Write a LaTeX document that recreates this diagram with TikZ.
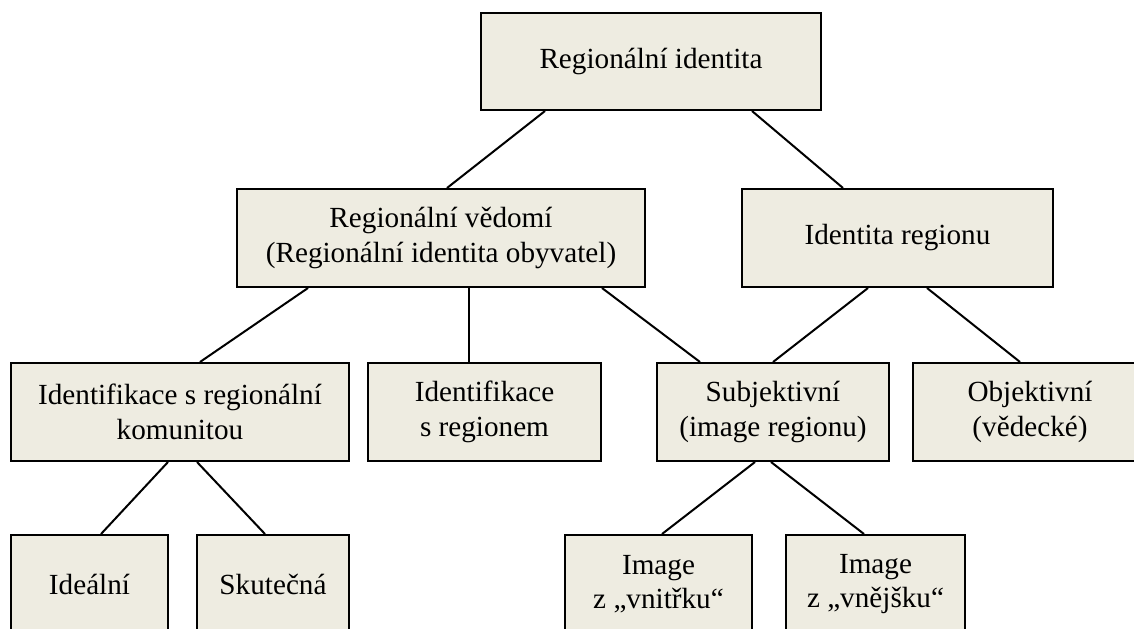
\documentclass[tikz,border=0pt]{standalone}
\usepackage{fontspec}
\setmainfont{Liberation Serif}
\definecolor{boxfill}{HTML}{EEECE1}

\begin{document}
\begin{tikzpicture}[
  x=0.5pt, y=-0.5pt,
  box/.style={draw, fill=boxfill, line width=1pt, inner sep=0pt,
    minimum height=49pt, align=center,
    font=\fontsize{14.6}{17.3}\selectfont},
  link/.style={line width=1pt}
]
\useasboundingbox (0,0) rectangle (1134,628);
\clip (0,0) rectangle (1134,628);

% --- Level 1 ---
\node[box, minimum width=170pt, minimum height=48.5pt] (ri) at (651,61.5) {Regionální identita};

% --- Level 2 ---
\node[box, minimum width=204pt] (vedomi) at (441,238) {Regionální vědomí\\(Regionální identita obyvatel)};
\node[box, minimum width=155.5pt] (idreg) at (897.5,238) {Identita regionu};

% --- Level 3 ---
\node[box, minimum width=169pt] (komunita) at (180,412) {Identifikace s regionální\\komunitou};
\node[box, minimum width=116.5pt] (sregionem) at (484.5,412) {Identifikace\\s regionem};
\node[box, minimum width=116pt] (subj) at (773,412) {Subjektivní\\(image regionu)};
\node[box, minimum width=117pt] (obj) at (1030,412) {Objektivní\\(vědecké)};

% --- Level 4 ---
\node[box, minimum width=78.5pt] (ideal) at (89.5,584) {Ideální};
\node[box, minimum width=76pt] (skut) at (273,584) {Skutečná};
\node[box, minimum width=93.5pt] (vnitr) at (658.5,584) {Image\\z „vnitřku“};
\node[box, minimum width=89.5pt] (vnej) at (875.5,584) {Image\\z „vnějšku“};

% --- Edges: level 1 to 2 ---
\draw[link] ([xshift=-53pt]ri.south) -- ([xshift=3pt]vedomi.north);
\draw[link] ([xshift=50.5pt]ri.south) -- ([xshift=-27.25pt]idreg.north);

% --- Edges: level 2 to 3 ---
\draw[link] ([xshift=-66.5pt]vedomi.south) -- ([xshift=10pt]komunita.north);
\draw[link] ([xshift=14pt]vedomi.south) -- ([xshift=-7.75pt]sregionem.north);
\draw[link] ([xshift=80.5pt]vedomi.south) -- ([xshift=-36.5pt]subj.north);
\draw[link] ([xshift=-14.75pt]idreg.south) -- (subj.north);
\draw[link] ([xshift=14.75pt]idreg.south) -- ([xshift=-5pt]obj.north);

% --- Edges: level 3 to 4 ---
\draw[link] ([xshift=-6pt]komunita.south) -- ([xshift=5.75pt]ideal.north);
\draw[link] ([xshift=8.5pt]komunita.south) -- ([xshift=-4pt]skut.north);
\draw[link] ([xshift=-9pt]subj.south) -- ([xshift=1.75pt]vnitr.north);
\draw[link] ([xshift=-1pt]subj.south) -- ([xshift=-5.75pt]vnej.north);

\end{tikzpicture}
\end{document}
